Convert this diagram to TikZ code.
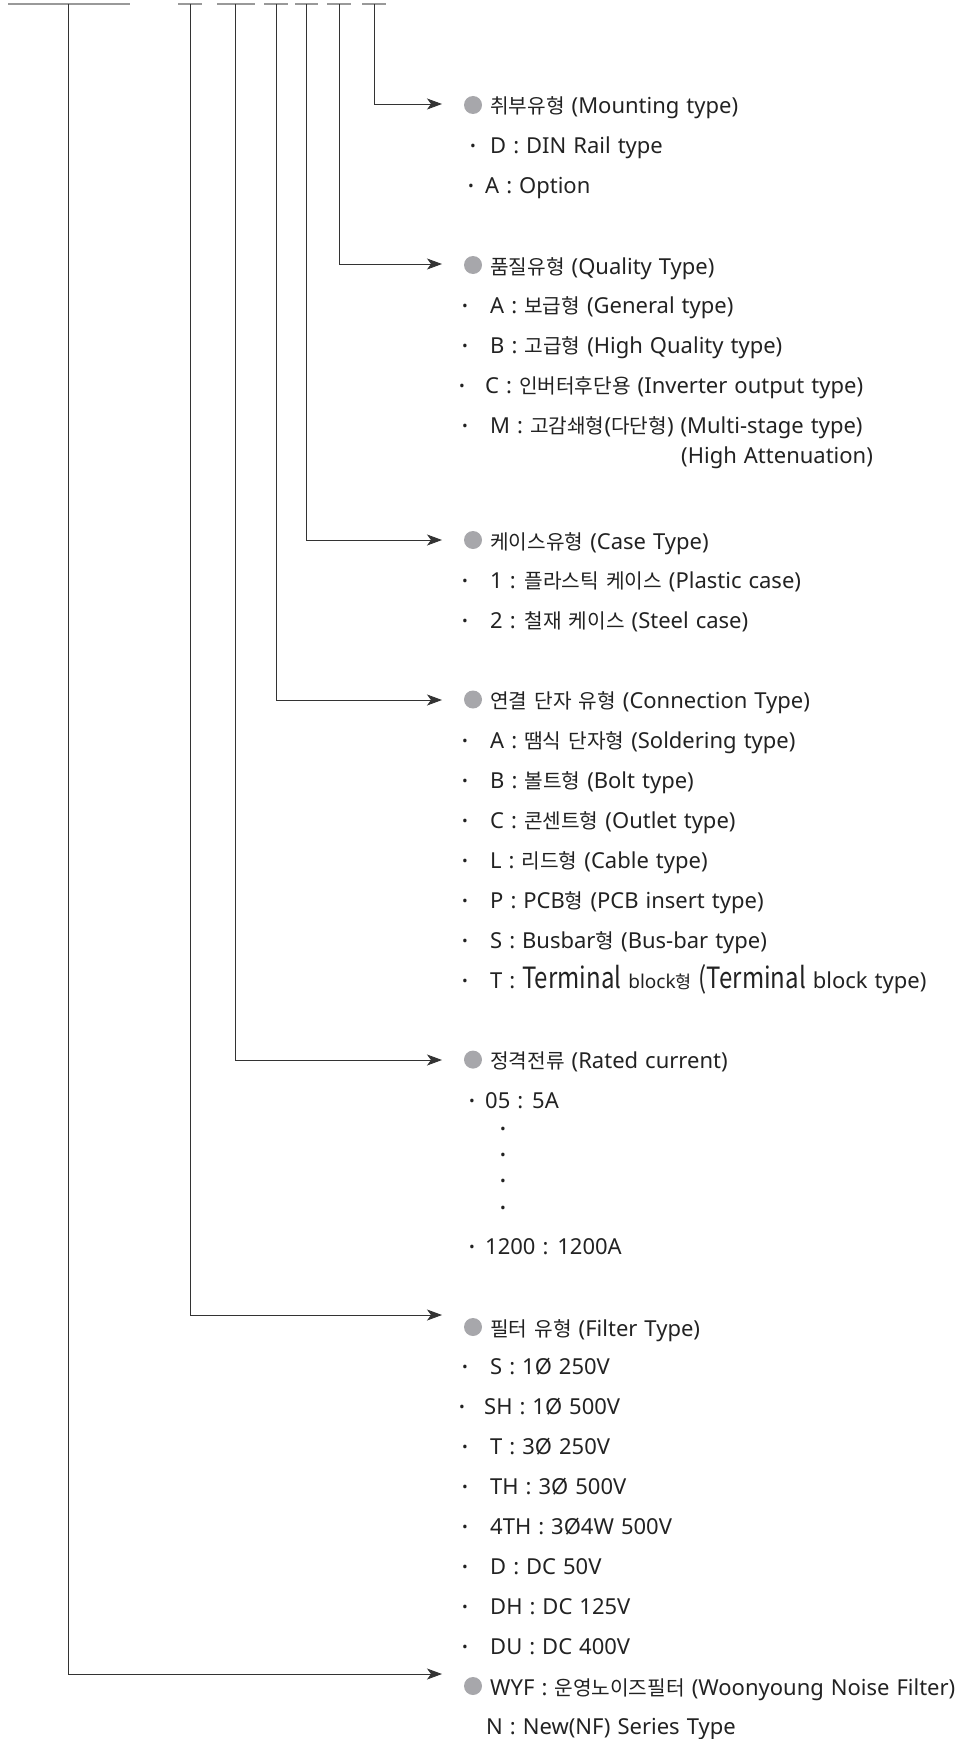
\documentclass[tikz,border=0pt]{standalone}
\usepackage{fontspec}
\usepackage{graphicx}
\setmainfont{Noto Sans}
\newfontfamily\kr[Scale=0.92]{Noto Sans CJK KR}
\newfontfamily\krl{Noto Sans CJK KR}
\usetikzlibrary{arrows.meta}
\definecolor{txtc}{HTML}{222222}
\definecolor{bulc}{HTML}{A7A7AB}
\definecolor{barc}{HTML}{999999}
\definecolor{linec}{HTML}{333333}
\newcommand\widesp{\spaceskip=7pt plus 1pt\relax}
\newcommand\hdr[3]{%
  \node[bul] (#1b) at (473,#2) {};
  \node[txt] (#1) at (490,#2+9) {#3};}
\newcommand\itm[5]{%
  \node[dotn] (#1d) at (#2,#4+10.5) {·};
  \node[txt] (#1) at (#3,#4+8.5) {#5};}
\newcommand\bigt[1]{\scalebox{1}[1.22]{\krl\fontsize{24}{24}\selectfont #1}}
\newcommand\smt[1]{{\fontsize{19}{20}\selectfont #1}}
\begin{document}
\begin{tikzpicture}[x=1pt,y=-1pt,
  font=\fontsize{22}{26}\selectfont,
  txt/.style={anchor=base west,inner sep=0pt,text=txtc,execute at begin node=\widesp},
  dotn/.style={anchor=base,inner sep=0pt,text=txtc,font=\fontsize{27}{27}\selectfont},
  bul/.style={circle,fill=bulc,minimum size=18pt,inner sep=0pt},
  bar/.style={draw=barc,line width=1.8pt},
  conn/.style={draw=linec,line width=0.9pt,-{Stealth[length=15pt,width=11pt,inset=4pt]}}]
\useasboundingbox (0,0) rectangle (971,1739);
% top bars
\draw[bar] (8,4) -- (130,4);
\draw[bar] (178,4) -- (202,4);
\draw[bar] (217,4) -- (255,4);
\draw[bar] (264,4) -- (288,4);
\draw[bar] (295,4) -- (318,4);
\draw[bar] (327,4) -- (351,4);
\draw[bar] (362,4) -- (386,4);
% connector coordinates
\coordinate (t1) at (374.3,4);  \coordinate (e1) at (442,104);
\coordinate (t2) at (339.3,4);  \coordinate (e2) at (442,264);
\coordinate (t3) at (306.7,4);  \coordinate (e3) at (442,540);
\coordinate (t4) at (276,4);    \coordinate (e4) at (442,700);
\coordinate (t5) at (235.7,4);  \coordinate (e5) at (442,1060);
\coordinate (t6) at (190,4);    \coordinate (e6) at (442,1315);
\coordinate (t7) at (68.7,4);   \coordinate (e7) at (442,1674);
\foreach \i in {1,...,7} {\draw[conn] (t\i) |- (e\i);}
% Mounting
\hdr{hm}{105}{{\kr 취부유형} (Mounting type)}
\itm{m1}{473}{490}{145}{D : DIN Rail type}
\itm{m2}{471}{485}{185}{A : Option}
% Quality
\hdr{hq}{265}{{\kr 품질유형} (Quality Type)}
\itm{q1}{465}{490}{305}{A : {\kr 보급형} (General type)}
\itm{q2}{465}{490}{345}{B : {\kr 고급형} (High Quality type)}
\itm{q3}{462}{485}{385}{C : {\kr 인버터후단용} (Inverter output type)}
\itm{q4}{465}{490}{425}{M : {\kr 고감쇄형}({\kr 다단형}) (Multi-stage type)}
\node[txt] (q4b) at (681,455+8.5) {(High Attenuation)};
% Case
\hdr{hc}{540}{{\kr 케이스유형} (Case Type)}
\itm{c1}{465}{490}{580}{1 : {\kr 플라스틱 케이스} (Plastic case)}
\itm{c2}{465}{490}{620}{2 : {\kr 철재 케이스} (Steel case)}
% Connection
\hdr{hn}{699.5}{{\kr 연결 단자 유형} (Connection Type)}
\itm{n1}{465}{490}{739.5}{A : {\kr 땜식 단자형} (Soldering type)}
\itm{n2}{465}{490}{779.5}{B : {\kr 볼트형} (Bolt type)}
\itm{n3}{465}{490}{819.5}{C : {\kr 콘센트형} (Outlet type)}
\itm{n4}{465}{490}{859.5}{L : {\kr 리드형} (Cable type)}
\itm{n5}{465}{490}{899.5}{P : PCB{\kr 형} (PCB insert type)}
\itm{n6}{465}{490}{939.5}{S : Busbar{\kr 형} (Bus-bar type)}
\itm{n7}{465}{490}{979.5}{T : \bigt{Terminal} \smt{block{\kr 형}} \bigt{(Terminal} block type)}
% Rated current
\hdr{hr}{1059.6}{{\kr 정격전류} (Rated current)}
\itm{r1}{472}{485}{1100}{05 : 5A}
\node[dotn] (rd1) at (503,1128+10) {·};
\node[dotn] (rd2) at (503,1154+10) {·};
\node[dotn] (rd3) at (503,1180+10) {·};
\node[dotn] (rd4) at (503,1207+10) {·};
\itm{r2}{472}{485}{1246}{1200 : 1200A}
% Filter
\hdr{hf}{1327}{{\kr 필터 유형} (Filter Type)}
\itm{f1}{465}{490}{1366}{S : 1Ø 250V}
\itm{f2}{462}{484}{1406}{SH : 1Ø 500V}
\itm{f3}{465}{490}{1446}{T : 3Ø 250V}
\itm{f4}{465}{490}{1486}{TH : 3Ø 500V}
\itm{f5}{465}{490}{1526}{4TH : 3Ø4W 500V}
\itm{f6}{465}{490}{1566}{D : DC 50V}
\itm{f7}{465}{490}{1606}{DH : DC 125V}
\itm{f8}{465}{490}{1646}{DU : DC 400V}
% WYF
\hdr{hw}{1686}{WYF : {\kr 운영노이즈필터} (Woonyoung Noise Filter)}
\node[txt] (w1) at (486,1726+8.5) {N : New(NF) Series Type};
\end{tikzpicture}
\end{document}
